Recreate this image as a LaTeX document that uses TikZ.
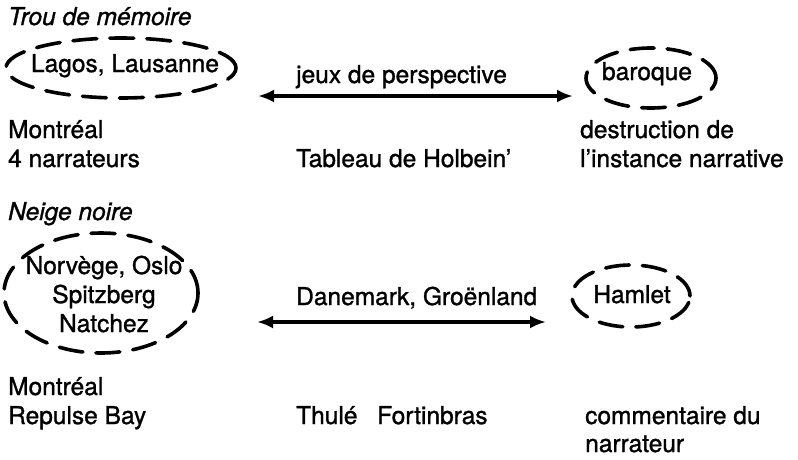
\documentclass[tikz,border=0pt]{standalone}
\usepackage{fontspec}
\setmainfont{TeX Gyre Heros}[FakeBold=1.2]
\usetikzlibrary{shapes.geometric,arrows.meta}
\tikzset{
  lbl/.style={anchor=base west, inner sep=0pt, font=\fontsize{24.5}{29}\selectfont},
  clbl/.style={anchor=base, inner sep=0pt, font=\fontsize{24.5}{29}\selectfont},
  ttl/.style={anchor=base west, inner sep=0pt, font=\fontsize{24.5}{29}\selectfont\itshape},
  dring/.style={ellipse, draw, line width=3.6pt, line cap=round, dash pattern=on 24pt off 13pt, inner sep=0pt},
  darrow/.style={line width=3.2pt, {Latex[length=16pt,width=13pt]}-{Latex[length=16pt,width=13pt]}}
}
\begin{document}
\begin{tikzpicture}[x=1pt,y=-1pt]
\useasboundingbox (0,0) rectangle (798,459);
% --- Trou de mémoire
\node[ttl] (t1) at (8,25) {Trou de mémoire};
\node[dring, minimum width=230pt, minimum height=60pt] (e1) at (121,68) {};
\node[clbl] (lagos) at (125,72) {Lagos, Lausanne};
\node[lbl] (m1) at (8,138) {Montréal};
\node[lbl] (n4) at (8,167) {4 narrateurs};
\node[lbl] (jeux) at (296,83) {jeux de perspective};
\coordinate (a1l) at (258,96);
\coordinate (a1r) at (573,96);
\draw[darrow] (a1l) -- (a1r);
\node[lbl] (holb) at (296,167) {Tableau de Holbein’};
\node[dring, minimum width=130pt, minimum height=60pt] (e2) at (651,78) {};
\node[clbl] (bar) at (647,80) {baroque};
\node[lbl] (des) at (580,138) {destruction de};
\node[lbl] (ins) at (580,167) {l’instance narrative};
% --- Neige noire
\node[ttl] (t2) at (8,220) {Neige noire};
\node[dring, minimum width=194pt, minimum height=120pt] (e3) at (101,293) {};
\node[clbl] (nor) at (104,274) {Norvège, Oslo};
\node[clbl] (spi) at (104,303) {Spitzberg};
\node[clbl] (nat) at (104,332) {Natchez};
\node[lbl] (dan) at (296,305) {Danemark, Groënland};
\coordinate (a2l) at (257,322);
\coordinate (a2r) at (546,322);
\draw[darrow] (a2l) -- (a2r);
\node[dring, minimum width=118pt, minimum height=62pt] (e4) at (631,296) {};
\node[clbl] (ham) at (632,303) {Hamlet};
\node[lbl] (m2) at (8,395) {Montréal};
\node[lbl] (rep) at (8,424) {Repulse Bay};
\node[lbl] (thu) at (296,424) {Thulé};
\node[lbl] (for) at (377,424) {Fortinbras};
\node[lbl] (com) at (585,424) {commentaire du};
\node[lbl] (nar) at (585,452) {narrateur};
\end{tikzpicture}
\end{document}
